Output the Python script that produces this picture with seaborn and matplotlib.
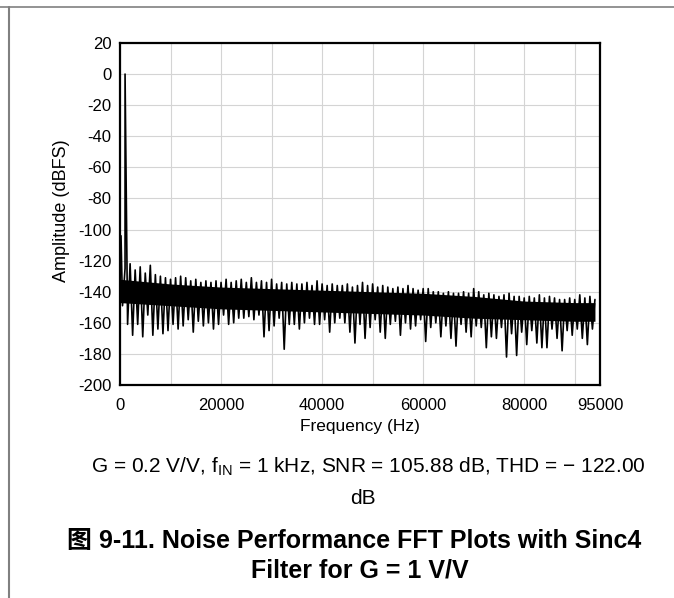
import matplotlib
matplotlib.use("Agg")
import matplotlib.pyplot as plt
from matplotlib.lines import Line2D
from matplotlib.ticker import FixedLocator
import seaborn as sns
import numpy as np

# Spectre FFT : sommets et creux du plancher de bruit (en dBFS)
top_hz = np.arange(0, 95000, 1000)
top_db = [-126, -125, -122, -126, -124, -128, -123, -129, -130, -131,
          -132, -131, -130, -131, -133, -132, -134, -133, -134, -133,
          -134, -132, -134, -133, -132, -134, -131, -134, -133, -134,
          -132, -135, -134, -135, -134, -135, -135, -134, -136, -133,
          -135, -136, -135, -136, -136, -135, -137, -136, -134, -136,
          -135, -137, -136, -137, -138, -137, -138, -136, -138, -139,
          -138, -138, -140, -140, -141, -140, -141, -141, -140, -141,
          -138, -140, -142, -141, -142, -143, -142, -141, -143, -143,
          -144, -143, -144, -142, -144, -143, -144, -145, -145, -144,
          -145, -142, -144, -143, -145]

bottom_hz = np.arange(500, 94000, 1000)
bottom_db = [-149, -161, -168, -161, -169, -155, -168, -164, -167, -165,
             -161, -164, -162, -158, -166, -159, -162, -160, -164, -161,
             -155, -161, -160, -157, -157, -156, -158, -155, -169, -165,
             -162, -157, -177, -161, -161, -164, -160, -157, -161, -161,
             -158, -166, -160, -157, -160, -166, -173, -161, -170, -163,
             -158, -166, -170, -161, -159, -168, -160, -164, -162, -158,
             -172, -163, -160, -169, -162, -170, -175, -161, -166, -169,
             -162, -163, -176, -169, -170, -163, -182, -167, -181, -166,
             -174, -165, -173, -176, -176, -164, -170, -178, -165, -168,
             -164, -170, -174, -164]

# Raie DC et fondamentale à 1 kHz
tone_hz = [200, 1000]
tone_db = [-104, 0]

# Coeur plein de la bande de bruit
core_hz = [0, 10000, 20000, 30000, 40000, 50000, 60000, 70000, 80000, 90000, 94000]
core_top = [-132, -135, -137, -138, -139, -140, -141, -143, -146, -147, -147]
core_bot = [-147, -149, -151, -152, -153, -154, -155, -157, -158, -159, -159]

x_labels = [0, 20000, 40000, 60000, 80000, 95000]
x_grid = [10000, 30000, 50000, 70000, 90000]
y_ticks = list(range(-200, 21, 20))

hz = np.concatenate([top_hz, bottom_hz, tone_hz])
db = np.concatenate([top_db, bottom_db, tone_db])
order = np.argsort(hz, kind="stable")
hz, db = hz[order], db[order]

sns.set_theme(style="whitegrid")
plt.rcParams["font.family"] = ["Liberation Sans", "Noto Sans CJK SC", "DejaVu Sans"]
plt.rcParams["axes.unicode_minus"] = False
plt.rcParams["text.color"] = "black"

fig = plt.figure(figsize=(6.74, 5.98), dpi=100)
ax = fig.add_axes([120 / 674, 1 - 385 / 598, 480 / 674, 342 / 598])
ax.set_facecolor("white")

ax.fill_between(core_hz, core_top, core_bot, color="black", lw=0)
sns.lineplot(x=hz, y=db, estimator=None, sort=False, color="black", linewidth=1.2, ax=ax)

ax.set_xlim(0, 95000)
ax.set_ylim(-200, 20)
ax.xaxis.set_major_locator(FixedLocator(x_labels))
ax.xaxis.set_minor_locator(FixedLocator(x_grid))
ax.set_yticks(y_ticks)
ax.set_xticklabels([str(v) for v in x_labels])
ax.set_yticklabels([str(v) for v in y_ticks])
ax.grid(which="both", color="#d4d4d4", linewidth=0.8)
ax.tick_params(axis="both", which="both", length=0, labelsize=12, colors="black")
ax.tick_params(axis="x", pad=9)
ax.tick_params(axis="y", pad=6)
ax.set_xlabel("")
ax.set_ylabel("")
for s in ax.spines.values():
    s.set_visible(True)
    s.set_color("black")
    s.set_linewidth(1.6)

fig.text(62 / 674, 1 - 211 / 598, "Amplitude (dBFS)", rotation=90,
         ha="center", va="center", fontsize=13)
fig.text(360 / 674, 1 - 427 / 598, "Frequency (Hz)", ha="center", va="center", fontsize=12.5)

# Légende sous le graphique
fig.text(368 / 674, 1 - 467 / 598,
         r"G = 0.2 V/V, f$_\mathregular{IN}$ = 1 kHz, SNR = 105.88 dB, THD = $\mathregular{-}$ 122.00",
         ha="center", va="center", fontsize=15)
fig.text(363 / 674, 1 - 498 / 598, "dB", ha="center", va="center", fontsize=15)
fig.text(354 / 674, 1 - 541 / 598, "图 9-11. Noise Performance FFT Plots with Sinc4",
         ha="center", va="center", fontsize=18, fontweight="bold")
fig.text(360 / 674, 1 - 571 / 598, "Filter for G = 1 V/V",
         ha="center", va="center", fontsize=18, fontweight="bold")

# Cadre du document
fig.add_artist(Line2D([0, 1], [1 - 7 / 598, 1 - 7 / 598], transform=fig.transFigure,
                      color="#808080", linewidth=1.2))
fig.add_artist(Line2D([9 / 674, 9 / 674], [0, 1 - 7 / 598], transform=fig.transFigure,
                      color="#808080", linewidth=1.5))

fig.savefig("out.png", dpi=100)
